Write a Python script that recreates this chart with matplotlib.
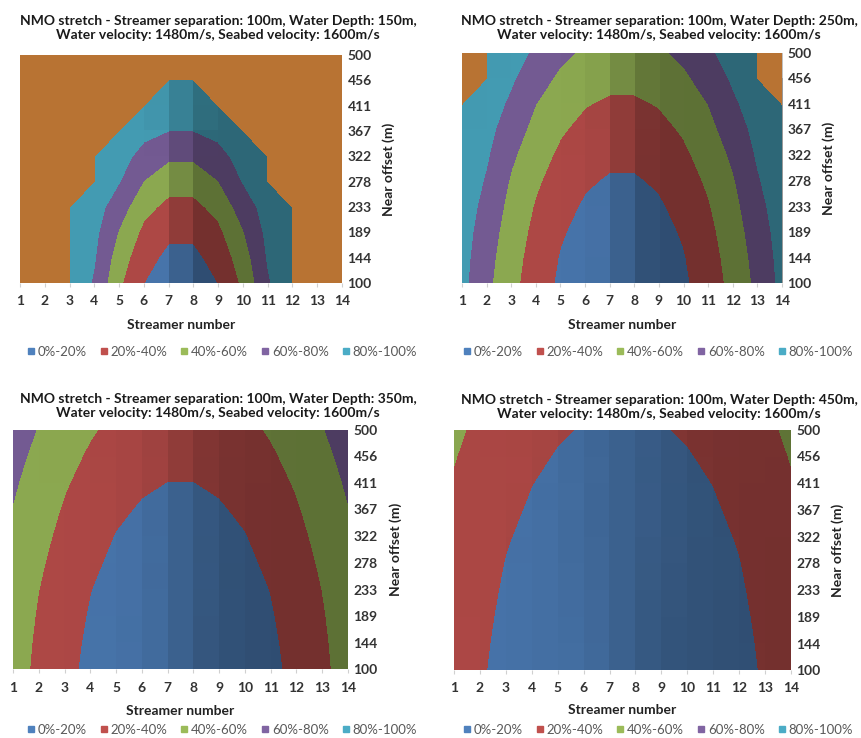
import numpy as np
import matplotlib
matplotlib.use("Agg")
import matplotlib.pyplot as plt
from matplotlib.lines import Line2D

X = 999  # stretch beyond 100 % (off the colour scale)

streamers = list(range(1, 15))
near_offsets = [100, 144, 189, 233, 278, 322, 367, 411, 456, 500]
band_levels = [0, 20, 40, 60, 80, 100]
off_levels = [100, 1000]
band_labels = ["0%-20%", "20%-40%", "40%-60%", "60%-80%", "80%-100%"]
band_colors = ["#4F81BD", "#C0504D", "#9BBB59", "#8064A2", "#4BACC6"]
floor_color = "#B87333"
water_depths = [150, 250, 350, 450]

# NMO stretch (%) per near offset (rows, 100 -> 500 m) and streamer (cols, 1 -> 14)
stretch_150 = [
    [X, X, 95.5, 77.7, 43.2, 20.1, 8.0, 8.0, 20.1, 43.2, 77.7, 95.5, X, X],
    [X, X, 97.2, 81.4, 49.8, 27.0, 15.1, 15.1, 27.0, 49.8, 81.4, 97.2, X, X],
    [X, X, 98.1, 84.7, 58.4, 35.3, 23.9, 23.9, 35.3, 58.4, 84.7, 98.1, X, X],
    [X, X, 99.3, 88.6, 69.1, 45.9, 34.6, 34.6, 45.9, 69.1, 88.6, 99.3, X, X],
    [X, X, X, 93.1, 80.7, 59.3, 47.8, 47.8, 59.3, 80.7, 93.1, X, X, X],
    [X, X, X, 97.4, 86.4, 74.3, 63.0, 63.0, 74.3, 86.4, 97.4, X, X, X],
    [X, X, X, X, 92.6, 84.5, 80.1, 80.1, 84.5, 92.6, X, X, X, X],
    [X, X, X, X, X, 91.5, 87.5, 87.5, 91.5, X, X, X, X, X],
    [X, X, X, X, X, X, 95.1, 95.1, X, X, X, X, X, X],
    [X, X, X, X, X, X, X, X, X, X, X, X, X, X],
]
stretch_250 = [
    [85.2, 64.5, 45.4, 29.7, 16.6, 7.7, 3.0, 3.0, 7.7, 16.6, 29.7, 45.4, 64.5, 85.2],
    [86.5, 66.7, 47.5, 31.9, 18.7, 9.9, 5.8, 5.8, 9.9, 18.7, 31.9, 47.5, 66.7, 86.5],
    [88.3, 69.8, 50.4, 34.8, 22.0, 13.5, 8.7, 8.7, 13.5, 22.0, 34.8, 50.4, 69.8, 88.3],
    [90.5, 73.5, 53.8, 38.3, 26.3, 17.5, 13.2, 13.2, 17.5, 26.3, 38.3, 53.8, 73.5, 90.5],
    [92.7, 78.0, 57.9, 42.8, 31.2, 22.4, 18.1, 18.1, 22.4, 31.2, 42.8, 57.9, 78.0, 92.7],
    [94.5, 82.0, 63.1, 48.1, 36.3, 28.4, 23.9, 23.9, 28.4, 36.3, 48.1, 63.1, 82.0, 94.5],
    [96.7, 85.8, 69.6, 53.9, 42.2, 34.6, 30.7, 30.7, 34.6, 42.2, 53.9, 69.6, 85.8, 96.7],
    [98.9, 89.9, 76.3, 60.0, 49.1, 41.0, 37.3, 37.3, 41.0, 49.1, 60.0, 76.3, 89.9, 98.9],
    [X, 93.4, 82.5, 68.2, 56.3, 48.9, 44.9, 44.9, 48.9, 56.3, 68.2, 82.5, 93.4, X],
    [X, 96.3, 87.6, 76.5, 64.5, 56.7, 53.1, 53.1, 56.7, 64.5, 76.5, 87.6, 96.3, X],
]
stretch_350 = [
    [47.8, 35.8, 24.8, 15.7, 8.8, 4.2, 1.5, 1.5, 4.2, 8.8, 15.7, 24.8, 35.8, 47.8],
    [48.9, 36.8, 26.1, 16.8, 9.9, 5.4, 3.1, 3.1, 5.4, 9.9, 16.8, 26.1, 36.8, 48.9],
    [50.3, 38.3, 27.8, 18.4, 11.6, 7.3, 4.8, 4.8, 7.3, 11.6, 18.4, 27.8, 38.3, 50.3],
    [52.1, 40.1, 29.9, 20.3, 13.9, 9.2, 7.1, 7.1, 9.2, 13.9, 20.3, 29.9, 40.1, 52.1],
    [54.2, 42.5, 32.4, 23.2, 16.4, 11.8, 9.5, 9.5, 11.8, 16.4, 23.2, 32.4, 42.5, 54.2],
    [56.6, 45.2, 35.1, 26.4, 19.2, 14.9, 12.6, 12.6, 14.9, 19.2, 26.4, 35.1, 45.2, 56.6],
    [59.3, 48.3, 38.2, 29.9, 22.9, 18.3, 16.2, 16.2, 18.3, 22.9, 29.9, 38.2, 48.3, 59.3],
    [62.2, 51.6, 41.6, 33.6, 27.0, 22.2, 19.7, 19.7, 22.2, 27.0, 33.6, 41.6, 51.6, 62.2],
    [65.5, 55.1, 45.6, 37.5, 31.4, 26.9, 24.5, 24.5, 26.9, 31.4, 37.5, 45.6, 55.1, 65.5],
    [69.0, 58.9, 49.8, 41.7, 35.7, 31.6, 29.4, 29.4, 31.6, 35.7, 41.7, 49.8, 58.9, 69.0],
]
stretch_450 = [
    [29.8, 21.6, 15.5, 10.4, 6.3, 2.9, 1.0, 1.0, 2.9, 6.3, 10.4, 15.5, 21.6, 29.8],
    [30.5, 22.4, 16.1, 11.0, 7.0, 3.8, 2.1, 2.1, 3.8, 7.0, 11.0, 16.1, 22.4, 30.5],
    [31.4, 23.5, 17.0, 11.9, 8.1, 5.2, 3.4, 3.4, 5.2, 8.1, 11.9, 17.0, 23.5, 31.4],
    [32.4, 24.8, 18.1, 13.2, 9.4, 6.6, 5.0, 5.0, 6.6, 9.4, 13.2, 18.1, 24.8, 32.4],
    [33.8, 26.4, 19.4, 14.7, 10.8, 8.2, 6.8, 6.8, 8.2, 10.8, 14.7, 19.4, 26.4, 33.8],
    [35.2, 28.1, 21.1, 16.3, 12.4, 10.0, 8.7, 8.7, 10.0, 12.4, 16.3, 21.1, 28.1, 35.2],
    [36.9, 30.1, 23.4, 18.1, 14.5, 11.8, 10.7, 10.7, 11.8, 14.5, 18.1, 23.4, 30.1, 36.9],
    [38.7, 32.1, 25.8, 20.2, 16.6, 14.1, 12.8, 12.8, 14.1, 16.6, 20.2, 25.8, 32.1, 38.7],
    [40.7, 34.4, 28.4, 22.9, 18.9, 16.6, 15.3, 15.3, 16.6, 18.9, 22.9, 28.4, 34.4, 40.7],
    [42.8, 36.7, 31.0, 25.9, 21.6, 19.0, 17.9, 17.9, 19.0, 21.6, 25.9, 31.0, 36.7, 42.8],
]
panels = [stretch_150, stretch_250, stretch_350, stretch_450]

# layout in pixels: plot box (left, top, right, bottom), title centre, xlabel y, ylabel x, legend centre
W, H = 861, 738
boxes = [(20, 55, 342, 283), (462, 53, 782, 283), (13, 430, 348, 669), (454, 430, 791, 670)]
title_pos = [(218, 28), (659, 28), (218, 406), (659, 407)]
xlabel_y = [325, 325, 711, 710]
ylabel_x = [389, 829, 396, 838]
legend_pos = [(222, 352), (658, 352), (222, 730), (658, 730)]

plt.rcParams["font.family"] = "Lato"

fig = plt.figure(figsize=(W / 100, H / 100), dpi=100)
fig.patch.set_facecolor("white")

for k, data in enumerate(panels):
    l, t, r, b = boxes[k]
    ax = fig.add_axes([l / W, 1 - b / H, (r - l) / W, (b - t) / H])
    Z = np.array(data, dtype=float)

    ax.contourf(streamers, near_offsets, Z, levels=band_levels, colors=band_colors, zorder=1)

    # Excel-style lighting: cells sloping up to the right are darker
    Zm = np.where(Z > 100, np.nan, Z)
    dx = Zm[:, 1:] - Zm[:, :-1]
    pair = np.stack([dx[:-1], dx[1:]])
    valid = ~np.isnan(pair)
    sx = np.where(valid.any(axis=0),
                  np.nansum(pair, axis=0) / np.maximum(valid.sum(axis=0), 1), 0.0)
    shade = np.zeros(sx.shape + (4,))
    shade[..., 3] = 0.25 + 0.15 * np.tanh(sx / 4.0)
    ax.imshow(shade, extent=(1, 14, 100, 500), origin="lower", aspect="auto",
              interpolation="nearest", zorder=2)

    # off-scale stretch shows the flat floor colour
    if (Z > 100).any():
        ax.contourf(streamers, near_offsets, Z, levels=off_levels, colors=[floor_color], zorder=3)

    ax.set_xlim(1, 14)
    ax.set_ylim(100, 500)
    ax.set_xticks(streamers)
    ax.set_yticks(near_offsets)
    ax.yaxis.tick_right()
    for s in ax.spines.values():
        s.set_visible(False)
    ax.tick_params(axis="x", length=3, color="#d0d0d0", pad=6, labelsize=10, labelcolor="#333333")
    ax.tick_params(axis="y", length=0, pad=4, labelsize=10, labelcolor="#333333")
    for lab in ax.get_xticklabels() + ax.get_yticklabels():
        lab.set_fontweight("bold")

    ax.set_xlabel("Streamer number", fontsize=10, fontweight="bold", color="#222222")
    ax.xaxis.label.set_va("center")
    ax.xaxis.set_label_coords(0.5, -(xlabel_y[k] - b) / (b - t))
    ax.set_ylabel("Near offset (m)", fontsize=10, fontweight="bold", color="#222222", rotation=90)
    ax.yaxis.set_label_position("right")
    ax.yaxis.label.set_va("center")
    ax.yaxis.set_label_coords((ylabel_x[k] - l) / (r - l), 0.5)

    tx, ty = title_pos[k]
    fig.text(tx / W, 1 - ty / H,
             f"NMO stretch - Streamer separation: 100m, Water Depth: {water_depths[k]}m,\n"
             "Water velocity: 1480m/s, Seabed velocity: 1600m/s",
             ha="center", va="center", fontsize=10, fontweight="bold", color="#1a1a1a",
             linespacing=1.2)

    handles = [Line2D([], [], marker="s", linestyle="", markersize=5, color=c)
               for c in band_colors]
    lx, ly = legend_pos[k]
    fig.legend(handles, band_labels, loc="center", bbox_to_anchor=(lx / W, 1 - ly / H),
               ncol=5, frameon=False, fontsize=9.5, handlelength=0.6, handletextpad=0.2,
               columnspacing=1.0, labelcolor="#595959", borderaxespad=0)

fig.savefig("out.png", dpi=100)
